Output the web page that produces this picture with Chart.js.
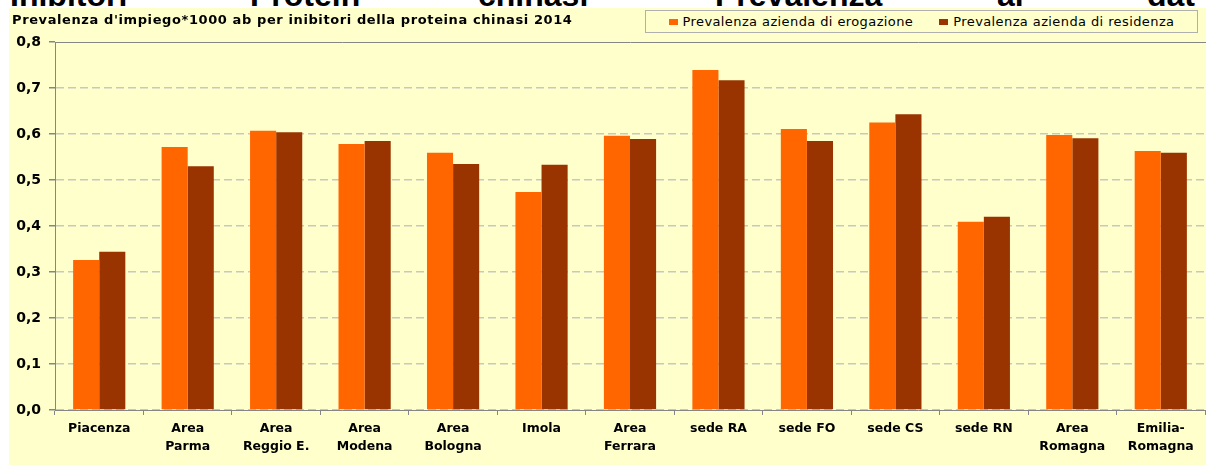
<!DOCTYPE html>
<html>
<head>
<meta charset="utf-8">
<script src="https://cdn.jsdelivr.net/npm/chart.js@4"></script>
<style>
  body { margin: 0; background: #fff; width: 1206px; height: 466px; overflow: hidden; position: relative; }
  #strip { position: absolute; left: 0; top: 0; width: 1206px; height: 8px; overflow: hidden; }
  #strip span { position: absolute; top: -21px; font: bold 32px "Liberation Sans", sans-serif; line-height: 32px; color: #000; white-space: nowrap; }
  #panel { position: absolute; left: 9px; top: 8px; width: 1197px; height: 457px; background: #FFFFCC; }
  #title { position: absolute; left: 3px; top: 4px; font: bold 13px "DejaVu Sans", sans-serif; letter-spacing: 0.6px; color: #000; white-space: nowrap; }
  #legend { position: absolute; left: 636px; top: 2px; width: 551px; height: 21px; border: 1px solid #b0b0b0; background: #FFFFCC;
            font: 13px "DejaVu Sans", sans-serif; letter-spacing: 0.4px; color: #000; display: flex; align-items: center; justify-content: center; gap: 26px; }
  #legend i { display: inline-block; width: 9px; height: 6px; margin-right: 5px; vertical-align: 1px; }
  #chart { position: absolute; left: 0; top: 0; }
</style>
</head>
<body>
<div id="strip">
  <span style="left:10px">Inibitori</span>
  <span style="left:250px">Protein</span>
  <span style="left:478px">chinasi_</span>
  <span style="left:715px">Prevalenza</span>
  <span style="left:997px">al</span>
  <span style="left:1147px">dat</span>
</div>
<div id="panel">
  <canvas id="chart" width="1197" height="457"></canvas>
  <div id="title">Prevalenza d'impiego*1000 ab per inibitori della proteina chinasi 2014</div>
  <div id="legend"></div>
</div>
<script>
var categories = [['Piacenza'], ['Area', 'Parma'], ['Area', 'Reggio E.'], ['Area', 'Modena'], ['Area', 'Bologna'],
  ['Imola'], ['Area', 'Ferrara'], ['sede RA'], ['sede FO'], ['sede CS'], ['sede RN'], ['Area', 'Romagna'], ['Emilia-', 'Romagna']];
var seriesNames = ['Prevalenza azienda di erogazione', 'Prevalenza azienda di residenza'];
var erogazione = [0.326, 0.572, 0.607, 0.578, 0.559, 0.474, 0.596, 0.739, 0.611, 0.625, 0.409, 0.598, 0.563];
var residenza = [0.344, 0.530, 0.604, 0.585, 0.535, 0.533, 0.589, 0.717, 0.585, 0.643, 0.420, 0.591, 0.559];
var yTicks = [0, 0.1, 0.2, 0.3, 0.4, 0.5, 0.6, 0.7, 0.8];

var colors = ['#FF6600', '#993300'];
var axisColor = '#868686';

document.addEventListener('DOMContentLoaded', function() {
    // legend
    var legend = document.getElementById('legend');
    seriesNames.forEach(function(name, i) {
        var item = document.createElement('span');
        var box = document.createElement('i');
        box.style.background = colors[i];
        item.appendChild(box);
        item.appendChild(document.createTextNode(name));
        legend.appendChild(item);
    });

    var ctx = document.getElementById('chart').getContext('2d');
    new Chart(ctx, {
        type: 'bar',
        data: {
            labels: categories,
            datasets: [{
                label: seriesNames[0],
                data: erogazione,
                backgroundColor: colors[0],
                borderWidth: 0,
                categoryPercentage: 0.59,
                barPercentage: 1.0
            }, {
                label: seriesNames[1],
                data: residenza,
                backgroundColor: colors[1],
                borderWidth: 0,
                categoryPercentage: 0.59,
                barPercentage: 1.0
            }]
        },
        options: {
            responsive: false,
            animation: false,
            layout: { padding: { left: 0, top: 34, right: 1, bottom: 0 } },
            plugins: { legend: { display: false }, tooltip: { enabled: false } },
            scales: {
                x: {
                    grid: { offset: true, drawOnChartArea: false, tickLength: 5, color: axisColor },
                    border: { color: axisColor, width: 1 },
                    ticks: {
                        color: '#000', font: { family: 'DejaVu Sans', size: 12.5, weight: 'bold', lineHeight: 1.5 },
                        padding: 4, maxRotation: 0, autoSkip: false
                    },
                    afterFit: function(scale) { scale.height = 55; }
                },
                xTop: {
                    type: 'category',
                    labels: categories,
                    position: 'top',
                    grid: { display: false },
                    ticks: { display: false },
                    border: { color: axisColor, width: 1 },
                    afterFit: function(scale) { scale.height = 0; }
                },
                y: {
                    min: yTicks[0],
                    max: yTicks[yTicks.length - 1],
                    afterBuildTicks: function(scale) {
                        scale.ticks = yTicks.map(function(v) { return { value: v }; });
                    },
                    ticks: {
                        color: '#000', font: { family: 'DejaVu Sans', size: 14, weight: 'bold' }, padding: 8,
                        callback: function(v) { return v.toFixed(1).replace('.', ','); }
                    },
                    grid: {
                        color: function(c) { return c.tick && c.tick.value >= 0.75 ? 'rgba(0,0,0,0)' : '#C8C8BE'; },
                        tickColor: axisColor, tickLength: 6, tickBorderDash: [], lineWidth: 1.5
                    },
                    border: { color: axisColor, width: 1, dash: [8, 4] },
                    afterFit: function(scale) { scale.width = 46; }
                }
            }
        }
    });
});
</script>
</body>
</html>
